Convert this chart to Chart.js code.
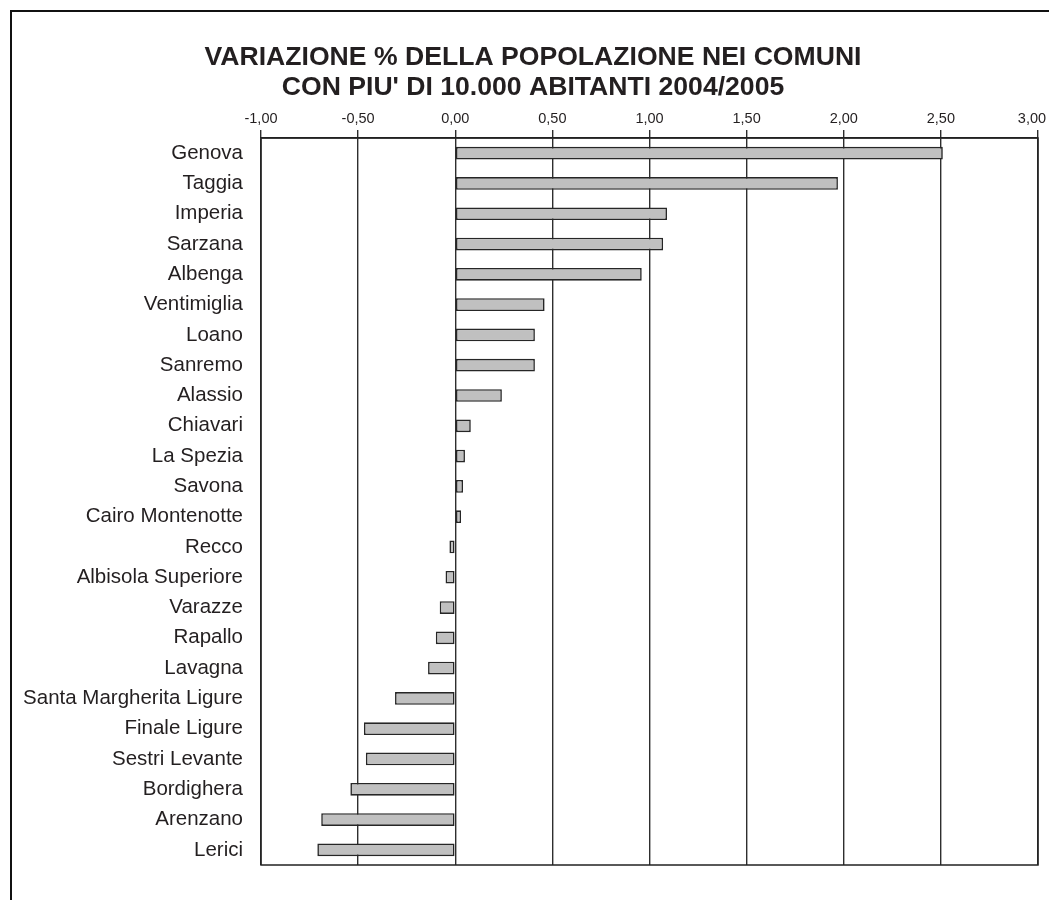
<!DOCTYPE html>
<html>
<head>
<meta charset="utf-8">
<script src="https://cdn.jsdelivr.net/npm/chart.js@4/dist/chart.umd.min.js"></script>
<style>
  html, body { margin: 0; padding: 0; background: #fff; overflow: hidden; }
  #wrap { position: relative; width: 1049px; height: 900px; }
  #frame { position: absolute; left: 10px; top: 10px; width: 1100px; height: 1000px;
           border-left: 2px solid #111; border-top: 2px solid #111; box-sizing: border-box; pointer-events: none; }
  canvas { position: absolute; left: 0; top: 0; }
</style>
</head>
<body>
<div id="wrap">
  <canvas id="c" width="1049" height="900"></canvas>
  <div id="frame"></div>
</div>
<script>
const titleLines = ["VARIAZIONE % DELLA POPOLAZIONE NEI COMUNI", "CON PIU' DI 10.000 ABITANTI 2004/2005"];
const comuni = ["Genova", "Taggia", "Imperia", "Sarzana", "Albenga", "Ventimiglia", "Loano", "Sanremo",
  "Alassio", "Chiavari", "La Spezia", "Savona", "Cairo Montenotte", "Recco", "Albisola Superiore",
  "Varazze", "Rapallo", "Lavagna", "Santa Margherita Ligure", "Finale Ligure", "Sestri Levante",
  "Bordighera", "Arenzano", "Lerici"];
const variazione = [2.51, 1.97, 1.09, 1.07, 0.96, 0.46, 0.41, 0.41, 0.24, 0.08, 0.05, 0.04, 0.03,
  -0.03, -0.05, -0.08, -0.10, -0.14, -0.31, -0.47, -0.46, -0.54, -0.69, -0.71];
const xMin = -1, xMax = 3, xStep = 0.5;

const frameBox = {
  id: 'frameBox',
  afterLayout(chart) {
    if (chart.titleBlock) { chart.titleBlock.left += 28; }
  },
  afterDatasetsDraw(chart) {
    const a = chart.chartArea, ctx = chart.ctx;
    ctx.save();
    ctx.strokeStyle = '#222';
    ctx.lineWidth = 1.5;
    ctx.strokeRect(a.left, a.top, a.right - a.left, a.bottom - a.top);
    ctx.restore();
  }
};

new Chart(document.getElementById('c'), {
  type: 'bar',
  data: {
    labels: comuni,
    datasets: [{
      data: variazione,
      backgroundColor: '#c0c0c0',
      borderColor: '#262626',
      borderWidth: 1.6,
      borderSkipped: false,
      barPercentage: 0.42,
      categoryPercentage: 1.0
    }]
  },
  options: {
    indexAxis: 'y',
    responsive: false,
    animation: false,
    layout: { padding: { left: 0, right: 11, top: 0, bottom: 35 } },
    plugins: {
      legend: { display: false },
      tooltip: { enabled: false },
      title: {
        display: true,
        text: titleLines,
        color: '#231f20',
        font: { family: "'Liberation Sans', Arial, sans-serif", size: 26.6, weight: 'bold', lineHeight: 1.147 },
        padding: { top: 42, bottom: 8 }
      }
    },
    scales: {
      x: {
        position: 'top',
        min: xMin, max: xMax,
        ticks: {
          stepSize: xStep,
          color: '#231f20',
          padding: 2,
          font: { family: "'Liberation Sans', Arial, sans-serif", size: 14.5 },
          callback: v => {
            const t = v.toFixed(2).replace('.', ',');
            return v === xMax ? t + '\u00a0\u00a0\u00a0' : t;
          }
        },
        grid: { color: '#2e2e2e', lineWidth: 1.4, tickLength: 8, drawTicks: true },
        border: { display: true, color: '#222', width: 1.5 },
        afterFit: s => { s.height = 27; s.paddingLeft = 0; s.paddingRight = 0; }
      },
      y: {
        ticks: {
          color: '#231f20',
          padding: 18,
          font: { family: "'Liberation Sans', Arial, sans-serif", size: 20.5 }
        },
        grid: { display: false, drawTicks: false },
        border: { display: false },
        afterFit: s => { s.width = 261; }
      }
    }
  },
  plugins: [frameBox]
});
</script>
</body>
</html>
